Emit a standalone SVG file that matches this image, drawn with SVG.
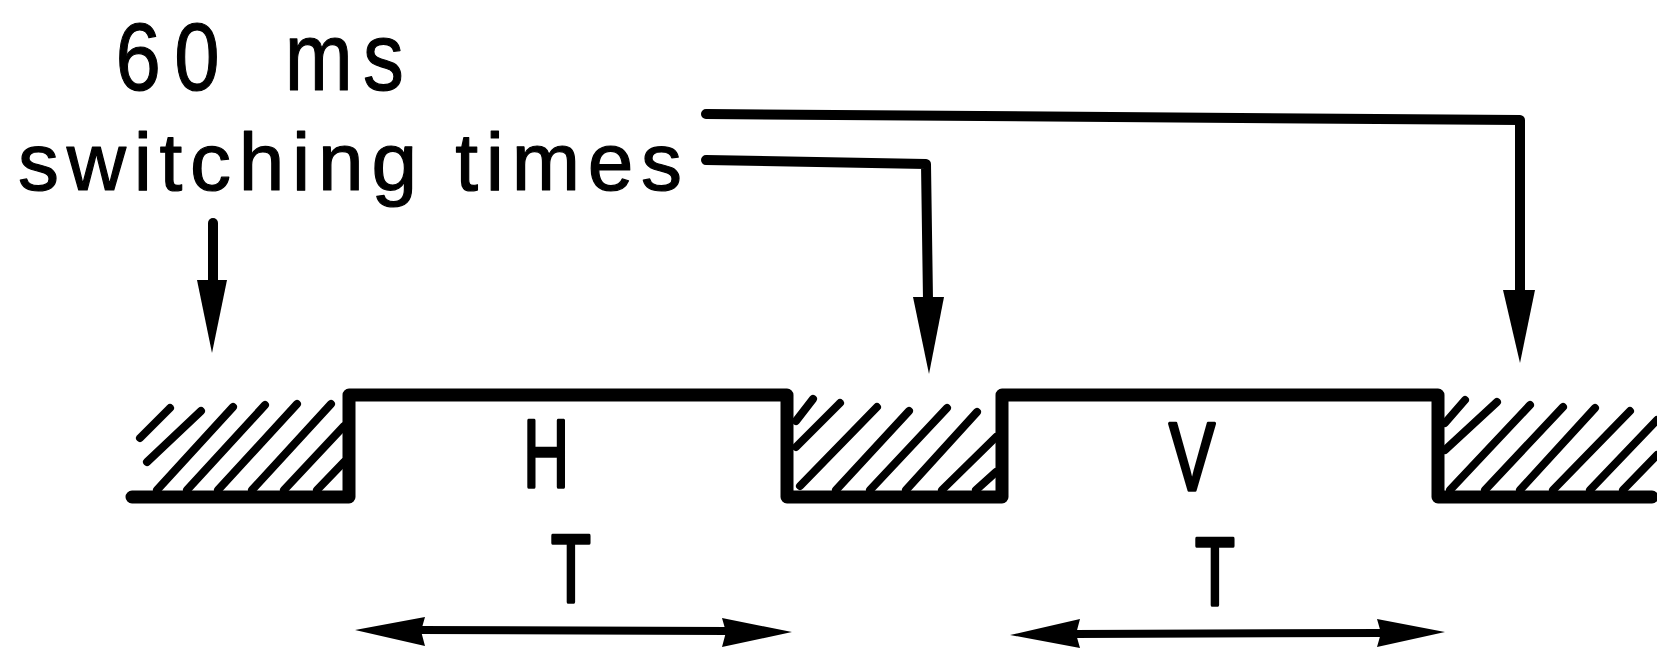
<svg xmlns="http://www.w3.org/2000/svg" width="1657" height="649" viewBox="0 0 1657 649">
<style>
.txt{font-family:"Liberation Sans",Arial,sans-serif;fill:#000;stroke:#000;stroke-width:1.2;stroke-linejoin:round}
.big{stroke-width:3.5}
.ln{stroke:#000;fill:none;stroke-linecap:round;stroke-linejoin:round}
.wave{stroke-width:13}
.hatch{stroke-width:8}
.conn{stroke-width:10}
.dim{stroke-width:8}
.head{fill:#000;stroke:none}
</style>
<rect width="1657" height="649" fill="#fff"/>
<g id="label-switching">
<text class="txt" font-size="96" transform="scale(0.85,1)" x="136 205 294 335 427" y="90">60 ms</text>
<text class="txt" font-size="82" x="18" y="190" textLength="664" lengthAdjust="spacing">switching times</text>
</g>
<g id="waveform">
<path class="ln wave" d="M132,497 H349 V395 H787 V497 H1002 V395 H1438 V497 H1652"/>
</g>
<g id="hatch-1" class="ln hatch">
<line x1="140" y1="438" x2="170" y2="408"/>
<line x1="147" y1="462" x2="201" y2="411"/>
<line x1="157" y1="490" x2="233" y2="407"/>
<line x1="187" y1="490" x2="265" y2="405"/>
<line x1="218" y1="490" x2="297" y2="404"/>
<line x1="252" y1="490" x2="331" y2="404"/>
<line x1="284" y1="490" x2="344" y2="426"/>
<line x1="317" y1="490" x2="344" y2="462"/>
</g>
<g id="hatch-2" class="ln hatch">
<line x1="796" y1="421" x2="813" y2="399"/>
<line x1="796" y1="447" x2="840" y2="403"/>
<line x1="800" y1="486" x2="877" y2="407"/>
<line x1="836" y1="490" x2="909" y2="411"/>
<line x1="870" y1="490" x2="947" y2="408"/>
<line x1="906" y1="490" x2="977" y2="412"/>
<line x1="942" y1="490" x2="996" y2="437"/>
<line x1="976" y1="490" x2="996" y2="472"/>
</g>
<g id="hatch-3" class="ln hatch">
<line x1="1445" y1="423" x2="1465" y2="400"/>
<line x1="1445" y1="450" x2="1497" y2="402"/>
<line x1="1450" y1="490" x2="1530" y2="405"/>
<line x1="1485" y1="490" x2="1563" y2="407"/>
<line x1="1520" y1="490" x2="1595" y2="408"/>
<line x1="1553" y1="490" x2="1630" y2="411"/>
<line x1="1590" y1="490" x2="1657" y2="420"/>
<line x1="1623" y1="490" x2="1657" y2="455"/>
</g>
<g id="label-H"><text class="txt big" font-size="96" text-anchor="middle" transform="translate(546,487) scale(0.66,1)">H</text></g>
<g id="label-V"><text class="txt big" font-size="96" text-anchor="middle" transform="translate(1192,490) scale(0.72,1)">V</text></g>
<g id="label-T1"><text class="txt big" font-size="96" text-anchor="middle" transform="translate(571,602) scale(0.68,1)">T</text></g>
<g id="label-T2"><text class="txt big" font-size="96" text-anchor="middle" transform="translate(1215,605) scale(0.68,1)">T</text></g>
<g id="connectors">
<line class="ln conn" x1="213" y1="223" x2="213" y2="285"/>
<polygon class="head" points="197,280 227,280 212,353"/>
<path class="ln conn" d="M706,160 L926,164 L928,300"/>
<polygon class="head" points="913,297 944,297 929,374"/>
<path class="ln conn" d="M706,114 L1520,120 L1520,293"/>
<polygon class="head" points="1503,290 1535,290 1520,363"/>
<line class="ln dim" x1="420" y1="630" x2="727" y2="631"/>
<polygon class="head" points="355,630 425,617 421,631 425,646"/>
<polygon class="head" points="792,632 722,618 726,632 722,647"/>
<line class="ln dim" x1="1075" y1="634" x2="1382" y2="633"/>
<polygon class="head" points="1010,635 1080,619 1076,634 1080,648"/>
<polygon class="head" points="1445,632 1377,619 1381,633 1377,647"/>
</g>
</svg>
